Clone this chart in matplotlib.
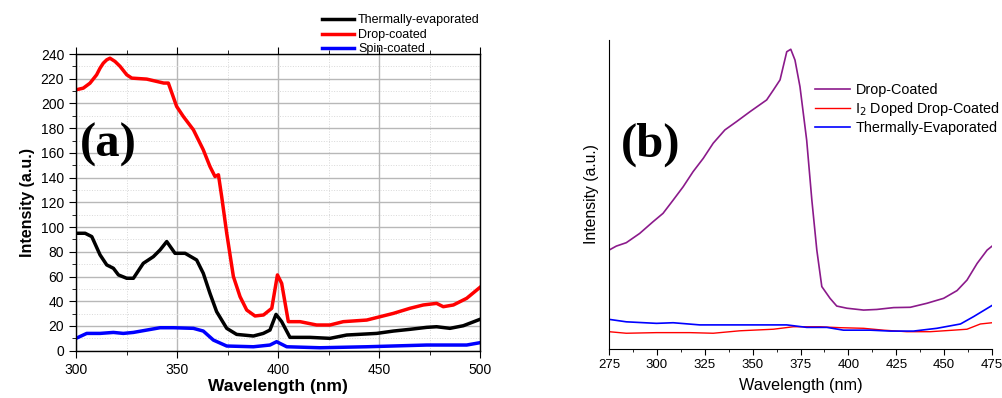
import matplotlib
matplotlib.use("Agg")
import matplotlib.pyplot as plt
from matplotlib.ticker import MultipleLocator, NullLocator

# ---------------- Panel (a) data ----------------
a_red_x = [300, 303.6, 306.9, 310.2, 311.9, 313.5, 315.2, 316.8, 319.3, 321.8, 325.1, 327.6, 335, 340, 343.4,
           345.7, 349.8, 353.1, 358.1, 363, 366.3, 368.8, 370.5, 372.1, 374.6, 377.9, 381.2, 384.5, 388.6,
           392.8, 396.9, 399.7, 401.8, 405.1, 410.9, 419.1, 425.7, 432.3, 443.9, 450.5, 457.1, 465.3, 471.9,
           478.5, 481.8, 486.8, 493.4, 500]
a_red_y = [211, 212.4, 216.4, 223.2, 228.6, 232.6, 235.3, 236.6, 234, 230, 223.2, 220.5, 219.7, 217.8, 216.5,
           216.5, 197.6, 189.5, 178.7, 162.5, 149, 140.9, 142.3, 124.7, 95, 60, 43.7, 32.9, 28.1,
           28.9, 34.3, 61.3, 54.5, 23.5, 23.5, 20.8, 20.8, 23.5, 24.8, 27.5, 30.2, 34.3, 37,
           38.3, 35.6, 37, 42.4, 51.3]

a_black_x = [300, 304.5, 307.8, 311.9, 315.2, 318.5, 321, 325.1, 328.4, 333.3, 338.3, 341.6, 344.9, 349, 354,
             359.7, 363, 366.3, 369.6, 374.6, 379.5, 387.8, 392.7, 396, 399, 401.8, 405.9, 415.8, 425.7, 434,
             448.8, 457.1, 465.3, 473.6, 478.5, 485.1, 491.7, 500]
a_black_y = [95, 95, 92.3, 77.5, 69.4, 66.7, 61.3, 58.6, 58.6, 70.7, 76.1, 81.5, 88.3, 78.8, 78.8,
             73.4, 62.6, 46.4, 31.6, 18.1, 13.2, 11.9, 14.0, 16.7, 29.4, 23.5, 10.8, 10.8, 10, 12.7,
             14.0, 15.9, 17.3, 18.9, 19.4, 18.1, 20.2, 25.4]

a_blue_x = [300, 305.3, 311.9, 318.5, 323.4, 328.4, 335, 341.6, 348.2, 358.1, 363, 368, 374.6, 387.8, 396,
            399.3, 404.3, 420.8, 443.9, 473.6, 493.4, 500]
a_blue_y = [10, 14.0, 14, 14.8, 14, 14.8, 16.7, 18.6, 18.6, 18.1, 15.9, 8.6, 3.8, 3.2, 4.6,
            7.3, 3.2, 2.4, 3.2, 4.6, 4.6, 6.5]

a_labels = ["Thermally-evaporated", "Drop-coated", "Spin-coated"]

# ---------------- Panel (b) data (arbitrary units) ----------------
b_purple_x = [275, 278.8, 284, 291, 298, 303.2, 308.5, 313.7, 318.9, 324.2, 329.4, 335.5, 341.6, 348.6, 357.3,
              360.8, 364.3, 367.8, 369.9, 372.1, 374.7, 378.2, 380.9, 383.5, 386.1, 390.4, 393.9, 399.2,
              407.9, 414.8, 423.6, 432.3, 441.0, 449.7, 456.7, 461.9, 467.2, 472.4, 475]
b_purple_y = [32.0, 33.3, 34.4, 37.4, 41.2, 43.9, 48.2, 52.5, 57.4, 61.7, 66.6, 70.9, 73.6, 76.8, 80.6,
              83.8, 87.1, 96.2, 97.0, 93.5, 84.9, 67.6, 48.2, 32.0, 20.2, 16.4, 13.9, 13.2,
              12.6, 12.8, 13.4, 13.5, 14.8, 16.4, 18.9, 22.3, 27.7, 32.0, 33.3]

b_red_x = [275, 284, 299.8, 317.2, 329.4, 343.4, 360.8, 371.2, 385.2, 395.6, 407.9, 418.3, 430.5, 442.7,
           454.9, 461.9, 468.9, 475]
b_red_y = [5.6, 5.1, 5.3, 5.3, 5.1, 5.9, 6.4, 7.2, 7.2, 6.9, 6.7, 6.1, 5.6, 5.6,
           6.1, 6.4, 8.1, 8.5]

b_blue_x = [275, 284, 299.8, 308.5, 322.4, 343.4, 367.8, 378.2, 388.7, 397.4, 411.4, 421.8, 434.0, 446.2,
            458.5, 465.4, 475]
b_blue_y = [9.6, 8.8, 8.3, 8.5, 7.8, 7.8, 7.8, 7.0, 7.0, 6.1, 6.1, 5.8, 5.8, 6.7,
            8.1, 10.5, 14.1]

b_labels = ["Drop-Coated", "I$_2$ Doped Drop-Coated", "Thermally-Evaporated"]

plt.rcParams['font.family'] = ['Liberation Sans', 'DejaVu Sans']

fig = plt.figure(figsize=(10.03, 3.98), dpi=100)

# ---------------- Panel (a) ----------------
ax = fig.add_axes([0.0758, 0.1188, 0.4028, 0.7455])
ax.plot(a_black_x, a_black_y, color='black', lw=2.5, label=a_labels[0])
ax.plot(a_red_x, a_red_y, color='#ff0000', lw=2.5, label=a_labels[1])
ax.plot(a_blue_x, a_blue_y, color='#0000ff', lw=2.5, label=a_labels[2])
ax.set_xlim(300, 500)
ax.set_ylim(0, 240)
ax.xaxis.set_major_locator(MultipleLocator(50))
ax.xaxis.set_minor_locator(MultipleLocator(25))
ax.yaxis.set_major_locator(MultipleLocator(20))
ax.yaxis.set_minor_locator(MultipleLocator(10))
ax.grid(which='major', color='#b8b8b8', lw=1.0, ls='-')
ax.grid(which='minor', color='#d8d8d8', lw=0.7, ls=':')
ax.set_axisbelow(True)
ax.tick_params(which='both', direction='out', top=True, right=False, labelsize=10)
ax.tick_params(which='major', length=5)
ax.tick_params(which='minor', length=3)
for s in ax.spines.values():
    s.set_linewidth(1.0)
ax.set_xlabel("Wavelength (nm)", fontsize=12.5, fontweight='bold', labelpad=2)
ax.set_ylabel("Intensity (a.u.)", fontsize=11.5, fontweight='bold', labelpad=4)
ax.text(0.01, 0.693, "(a)", transform=ax.transAxes, fontsize=35, fontweight='bold',
        family='Liberation Serif', ha='left', va='center')
ax.legend(loc='lower left', bbox_to_anchor=(0.59, 0.97), frameon=False, fontsize=9,
          handlelength=2.6, handletextpad=0.3, labelspacing=0.2, borderpad=0.1)

# ---------------- Panel (b) ----------------
bx = fig.add_axes([0.6072, 0.1231, 0.3819, 0.7764])
bx.plot(b_purple_x, b_purple_y, color='#8b1a8b', lw=1.2, label=b_labels[0])
bx.plot(b_red_x, b_red_y, color='#ff0000', lw=1.0, label=b_labels[1])
bx.plot(b_blue_x, b_blue_y, color='#0000ff', lw=1.2, label=b_labels[2])
bx.set_xlim(275, 475)
bx.set_ylim(0, 100)
bx.xaxis.set_major_locator(MultipleLocator(25))
bx.xaxis.set_minor_locator(MultipleLocator(12.5))
bx.yaxis.set_major_locator(NullLocator())
bx.spines['top'].set_visible(False)
bx.spines['right'].set_visible(False)
bx.tick_params(which='both', direction='out', labelsize=9.5)
bx.tick_params(which='major', length=4)
bx.tick_params(which='minor', length=2.5)
bx.set_xlabel("Wavelength (nm)", fontsize=11.7, labelpad=5)
bx.set_ylabel("Intensity (a.u.)", fontsize=11.3, labelpad=7)
bx.text(0.03, 0.66, "(b)", transform=bx.transAxes, fontsize=35, fontweight='bold',
        family='Liberation Serif', ha='left', va='center')
bx.legend(loc='upper left', bbox_to_anchor=(0.515, 0.89), frameon=False, fontsize=10.4,
          handlelength=2.4, handletextpad=0.4, labelspacing=0.22, borderpad=0.1)

fig.savefig("out.png", dpi=100)
